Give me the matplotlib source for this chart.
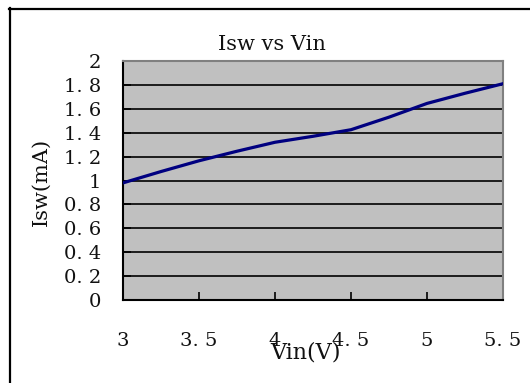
import matplotlib
matplotlib.use("Agg")
import matplotlib.pyplot as plt
from matplotlib.lines import Line2D

vin = [3.0, 3.25, 3.5, 3.75, 4.0, 4.25, 4.5, 4.75, 5.0, 5.25, 5.5]
isw = [0.98, 1.075, 1.165, 1.245, 1.32, 1.37, 1.425, 1.53, 1.645, 1.73, 1.81]
xticks = [3, 3.5, 4, 4.5, 5, 5.5]
xticklabels = ["3", "3. 5", "4", "4. 5", "5", "5. 5"]
yticks = [0, 0.2, 0.4, 0.6, 0.8, 1, 1.2, 1.4, 1.6, 1.8, 2]
yticklabels = ["0", "0. 2", "0. 4", "0. 6", "0. 8", "1", "1. 2", "1. 4", "1. 6", "1. 8", "2"]

plt.rcParams['font.family'] = ['DejaVu Serif']

W, H = 530, 383
fig = plt.figure(figsize=(W/100, H/100), dpi=100)
fig.patch.set_facecolor('white')

ax = fig.add_axes([123/W, 1-300/H, (503-123)/W, (300-61)/H])
ax.set_facecolor('#C0C0C0')
ax.set_xlim(3, 5.5)
ax.set_ylim(0, 2)
for y in yticks[1:-1]:
    ax.axhline(y, color='black', lw=1.2, zorder=1)
ax.plot(vin, isw, color='#000080', lw=2.3, zorder=3)

ax.set_xticks(xticks)
ax.set_xticklabels(xticklabels)
ax.set_yticks(yticks)
ax.set_yticklabels(yticklabels)
ax.tick_params(axis='x', direction='in', length=6, width=1.2, color='black', pad=23, labelsize=14, labelcolor='#111111')
ax.tick_params(axis='y', direction='in', length=6, width=1.2, color='black', pad=16, labelsize=14, labelcolor='#111111')
ax.spines['left'].set_color('black')
ax.spines['bottom'].set_color('black')
ax.spines['left'].set_linewidth(1.5)
ax.spines['bottom'].set_linewidth(1.5)
ax.spines['top'].set_color('#808080')
ax.spines['right'].set_color('#808080')
ax.spines['top'].set_linewidth(1.5)
ax.spines['right'].set_linewidth(1.5)

fig.text(272/W, 1-44/H, "Isw vs Vin", ha='center', va='center', fontsize=15, color='#111111')
fig.text(305/W, 1-353/H, "Vin(V)", ha='center', va='center', fontsize=16, color='#111111')
fig.text(41/W, 1-182/H, "Isw(mA)", ha='center', va='center', rotation=90, fontsize=15, color='#111111')

fig.add_artist(Line2D([10/W, 10/W], [0, 1-8/H], color='black', lw=1.6, transform=fig.transFigure))
fig.add_artist(Line2D([9/W, 1], [1-9/H, 1-9/H], color='black', lw=1.6, transform=fig.transFigure))

fig.savefig("out.png", dpi=100)
